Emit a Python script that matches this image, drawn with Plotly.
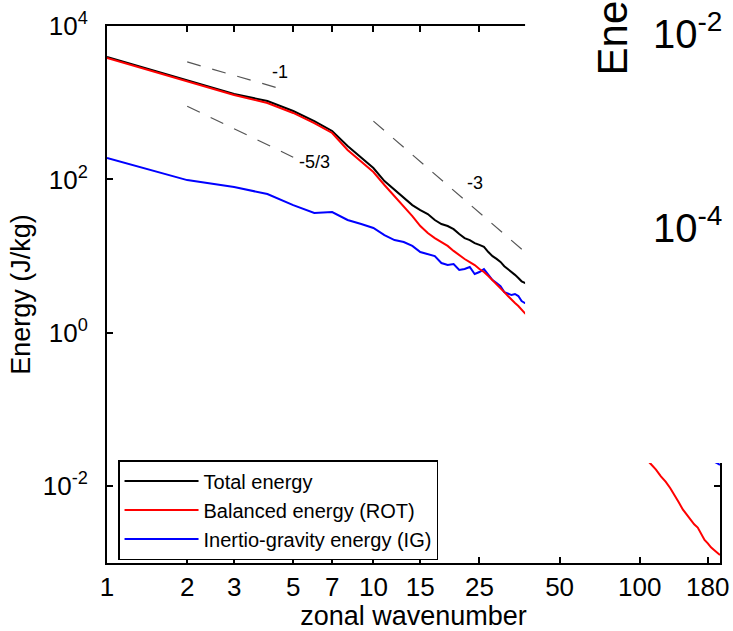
import plotly.graph_objects as go

# ---------------- data ----------------
k_main = list(range(1, 39))
k_tail = [40, 45, 50, 60, 70, 80, 90, 100, 110, 115, 120, 125, 130, 135, 140, 145,
          150, 155, 160, 165, 170, 175, 180, 185, 190, 195, 200]

total_main = [3945, 1977, 1298, 1052, 780, 577, 428, 272, 190, 141,
              95.3, 72.8, 57.2, 46.3, 39.9, 35.4, 29.6, 26.2, 24.7, 22.5,
              19.4, 17.2, 16.2, 14.8, 14.0, 13.2, 11.3, 10.0, 9.2, 8.4,
              7.4, 6.8, 6.2, 5.7, 5.2, 4.7, 4.5, 4.2]
total_tail = [3.9, 2.9, 1.7, 0.95, 0.52, 0.36, 0.25, 0.17, 0.125, 0.11, 0.095, 0.085,
              0.076, 0.068, 0.062, 0.056, 0.048, 0.043, 0.039, 0.035, 0.032, 0.029,
              0.027, 0.025, 0.0235, 0.0222, 0.0213]

rot_main = [3830, 1919, 1259, 991, 735, 543, 403, 242, 169, 125,
            84.6, 60.8, 43.7, 33.3, 24.7, 20.0, 17.2, 15.3, 13.6, 11.7,
            10.3, 9.17, 8.37, 7.65, 6.79, 6.21, 5.51, 4.88, 4.33, 3.84,
            3.40, 3.02, 2.68, 2.45, 2.24, 1.98, 1.81, 1.66]
rot_tail = [1.45, 0.95, 0.62, 0.27, 0.14, 0.075, 0.045, 0.028, 0.0195, 0.0165,
            0.0135, 0.0115, 0.0095, 0.0078, 0.0062, 0.0050, 0.0043, 0.0038, 0.0032,
            0.0029, 0.0024, 0.0020, 0.0018, 0.0016, 0.00148, 0.00135, 0.00127]

ig_main = [190, 98, 79.6, 64.6, 46.3, 36.5, 37.6, 29.6, 26.2, 23.3,
           18.8, 16.2, 15.3, 13.6, 11.3, 10.6, 10.0, 8.13, 7.66, 7.89,
           6.59, 6.79, 7.21, 5.85, 6.21, 6.79, 5.67, 4.88, 4.46, 4.07,
           3.40, 3.21, 3.11, 3.21, 3.02, 2.60, 2.45, 2.52]
ig_tail = [2.3, 1.55, 1.05, 0.62, 0.38, 0.26, 0.19, 0.14, 0.105, 0.092, 0.08, 0.07,
           0.062, 0.055, 0.049, 0.044, 0.043, 0.038, 0.034, 0.031, 0.028, 0.026,
           0.024, 0.022, 0.021, 0.020, 0.019]

# reference slopes (end points)
slope_m1_x = [2, 4.55]
slope_m1_y = [3400, 1500]
slope_m53_x = [2, 5]
slope_m53_y = [900, 195]
slope_m3_x = [10, 40]
slope_m3_y = [575, 9.0]

x_ticks = [1, 2, 3, 5, 7, 10, 15, 25, 50, 100, 180]
y_ticks = [1e-2, 1, 1e2, 1e4]
y_ticktext = ["10<sup>-2</sup>", "10<sup>0</sup>", "10<sup>2</sup>", "10<sup>4</sup>"]

k_all = k_main + k_tail
total = total_main + total_tail
rot = rot_main + rot_tail
ig = ig_main + ig_tail

FONT = "Liberation Sans, Arial, Helvetica, sans-serif"

fig = go.Figure()

dash_style = dict(color="#555555", width=1.2, dash="14px,12px")
for xs, ys in [(slope_m1_x, slope_m1_y), (slope_m53_x, slope_m53_y), (slope_m3_x, slope_m3_y)]:
    fig.add_trace(go.Scatter(x=xs, y=ys, mode="lines", line=dash_style,
                             showlegend=False, hoverinfo="skip"))

fig.add_trace(go.Scatter(x=k_all, y=ig, mode="lines", name="Inertio-gravity energy (IG)",
                         line=dict(color="#0000ff", width=2), legendrank=3))
fig.add_trace(go.Scatter(x=k_all, y=total, mode="lines", name="Total energy",
                         line=dict(color="black", width=2), legendrank=1))
fig.add_trace(go.Scatter(x=k_all, y=rot, mode="lines", name="Balanced energy (ROT)",
                         line=dict(color="#ff0000", width=2), legendrank=2))

axis_common = dict(
    showline=True, linecolor="black", linewidth=2, mirror="ticks",
    ticks="inside", ticklen=6, tickwidth=1.5, tickcolor="black",
    showgrid=False, zeroline=False, automargin=False,
    tickfont=dict(family=FONT, size=26, color="black"),
)

fig.update_xaxes(type="log", range=[0, 2.30103], tickvals=x_ticks,
                 ticktext=[str(v) for v in x_ticks],
                 title=dict(text="zonal wavenumber", font=dict(family=FONT, size=27, color="black"),
                            standoff=15),
                 ticklabelstandoff=0, **axis_common)
fig.update_yaxes(type="log", range=[-3, 4], tickvals=y_ticks, ticktext=y_ticktext,
                 title=dict(text="Energy (J/kg)", font=dict(family=FONT, size=27, color="black"),
                            standoff=4),
                 ticklabelstandoff=12, **axis_common)

annots = [
    dict(x=0.650, y=3.40, text="-1"),
    dict(x=0.778, y=2.227, text="-5/3"),
    dict(x=1.383, y=1.953, text="-3"),
]
for a in annots:
    fig.add_annotation(x=a["x"], y=a["y"], xref="x", yref="y", text=a["text"],
                       showarrow=False, font=dict(family=FONT, size=18, color="black"))

# white patch from the overlapping neighbouring figure
fig.add_shape(type="rect", xref="paper", yref="paper",
              x0=0.682, x1=1.05, y0=0.1862, y1=1.1,
              fillcolor="white", line=dict(width=0), layer="above")

fig.add_annotation(xref="paper", yref="paper", x=0.8254, y=0.905,
                   xanchor="center", yanchor="bottom", textangle=-90,
                   text="Ene", showarrow=False,
                   font=dict(family=FONT, size=42, color="black"))
fig.add_annotation(xref="paper", yref="paper", x=0.888, y=0.99,
                   xanchor="left", yanchor="middle",
                   text="10<sup>-2</sup>", showarrow=False,
                   font=dict(family=FONT, size=40, color="black"))
fig.add_annotation(xref="paper", yref="paper", x=0.888, y=0.629,
                   xanchor="left", yanchor="middle",
                   text="10<sup>-4</sup>", showarrow=False,
                   font=dict(family=FONT, size=40, color="black"))

fig.update_layout(
    width=733, height=631,
    margin=dict(l=107, r=13, t=26, b=68, autoexpand=False),
    paper_bgcolor="white", plot_bgcolor="white",
    font=dict(family=FONT, color="black"),
    legend=dict(x=0.018, y=(563 - 510) / 537, xanchor="left", yanchor="middle",
                bordercolor="black", borderwidth=1.5, bgcolor="white",
                font=dict(family=FONT, size=20, color="black"),
                itemwidth=74, tracegroupgap=0),
)

fig.write_html("out.html")
